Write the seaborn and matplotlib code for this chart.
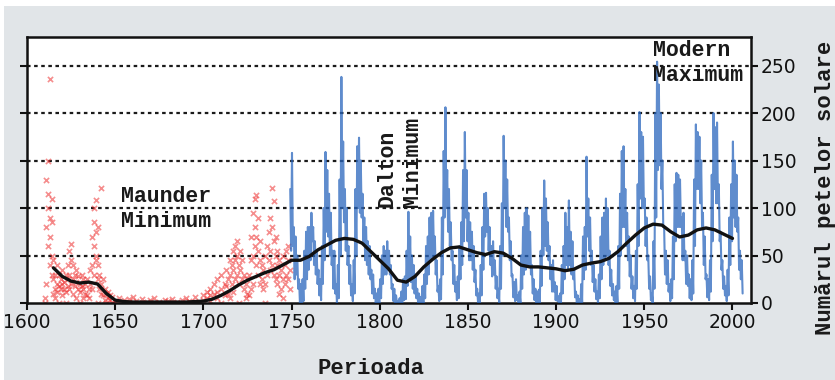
import numpy as np
import pandas as pd
import matplotlib
matplotlib.use("Agg")
import matplotlib.pyplot as plt
import seaborn as sns
from matplotlib.patches import Rectangle

# ---------------- data ----------------
# Telescopic monthly sunspot record 1749-2005, summarised per year as
# the highest and lowest monthly value seen in the chart
blue_years = list(range(1749, 2006))
blue_high = [
    120, 158, 80, 70, 50, 25, 20, 25, 55, 75, 80, 80, 95, 80, 65, 55, 35, 25, 60, 100,
    159, 140, 115, 95, 55, 55, 20, 40, 130, 238, 170, 120, 100, 60, 40, 20, 45, 120, 165, 174,
    150, 115, 90, 80, 65, 60, 35, 30, 15, 10, 15, 25, 50, 60, 55, 65, 55, 40, 20, 15,
    8, 2, 5, 12, 25, 28, 55, 96, 70, 50, 40, 30, 15, 10, 6, 18, 30, 60, 70, 90,
    95, 97, 70, 45, 18, 25, 90, 160, 206, 140, 120, 85, 55, 40, 22, 28, 60, 85, 140, 180,
    140, 95, 85, 75, 60, 35, 15, 10, 40, 80, 115, 116, 100, 80, 60, 65, 45, 28, 15, 60,
    105, 176, 150, 130, 90, 65, 30, 22, 25, 8, 12, 50, 80, 95, 100, 92, 75, 40, 25, 15,
    12, 14, 55, 100, 129, 110, 85, 60, 40, 45, 22, 18, 7, 10, 40, 60, 95, 80, 108, 75,
    65, 35, 12, 8, 4, 20, 70, 80, 154, 110, 90, 55, 40, 25, 12, 30, 70, 90, 95, 110,
    100, 55, 35, 20, 12, 18, 60, 115, 160, 165, 120, 95, 70, 50, 28, 18, 55, 125, 201, 180,
    175, 110, 90, 50, 28, 10, 65, 200, 254, 230, 200, 150, 80, 55, 45, 20, 25, 70, 125, 137,
    135, 130, 90, 95, 55, 50, 30, 25, 45, 130, 188, 180, 175, 150, 95, 70, 30, 25, 45, 135,
    200, 185, 190, 125, 75, 45, 28, 18, 35, 90, 125, 170, 150, 135, 90, 55, 45,
]
blue_low = [
    55, 60, 25, 30, 15, 0, 0, 2, 15, 25, 35, 45, 65, 40, 30, 20, 8, 3, 20, 45,
    75, 70, 50, 40, 15, 10, 0, 5, 50, 100, 85, 55, 40, 20, 8, 2, 10, 50, 100, 95,
    90, 65, 45, 40, 30, 25, 10, 5, 0, 0, 0, 5, 20, 30, 30, 35, 30, 15, 2, 0,
    0, 0, 0, 0, 3, 4, 18, 25, 22, 15, 10, 5, 0, 0, 0, 0, 5, 20, 30, 45,
    45, 50, 30, 12, 2, 4, 30, 90, 100, 75, 60, 45, 20, 12, 3, 5, 25, 40, 65, 90,
    65, 45, 45, 35, 22, 8, 0, 0, 8, 35, 70, 75, 55, 40, 28, 30, 15, 5, 0, 15,
    50, 100, 80, 75, 45, 28, 6, 2, 3, 0, 0, 15, 30, 35, 40, 40, 30, 10, 3, 0,
    0, 0, 18, 50, 60, 55, 45, 25, 12, 12, 3, 2, 0, 0, 10, 25, 40, 35, 40, 30,
    25, 6, 0, 0, 0, 1, 25, 35, 70, 55, 40, 22, 12, 4, 0, 5, 25, 40, 45, 50,
    40, 18, 8, 3, 0, 1, 15, 50, 80, 80, 60, 45, 28, 15, 5, 2, 15, 60, 110, 100,
    100, 60, 45, 15, 3, 0, 15, 90, 140, 145, 120, 80, 30, 20, 12, 2, 5, 25, 65, 80,
    80, 80, 45, 45, 20, 18, 5, 3, 10, 60, 120, 120, 105, 80, 40, 25, 6, 3, 12, 65,
    120, 105, 105, 65, 35, 15, 8, 2, 8, 40, 65, 90, 80, 75, 35, 25, 10,
]

# Early (pre-1750) observations, red crosses
red_years = [
    1610, 1610, 1611, 1611, 1611, 1612, 1612, 1612, 1612, 1613, 1613, 1613, 1613,
    1614, 1614, 1614, 1614, 1615, 1615, 1615, 1616, 1616, 1616, 1617, 1617, 1617,
    1618, 1618, 1618, 1619, 1619, 1620, 1620, 1620, 1621, 1621, 1622, 1622, 1622,
    1623, 1623, 1623, 1624, 1624, 1624, 1625, 1625, 1625, 1626, 1626, 1626, 1627,
    1627, 1628, 1628, 1628, 1629, 1629, 1630, 1630, 1630, 1631, 1631, 1632, 1632,
    1632, 1633, 1633, 1634, 1634, 1635, 1635, 1636, 1636, 1637, 1637, 1637, 1638,
    1638, 1638, 1638, 1639, 1639, 1639, 1639, 1640, 1640, 1640, 1640, 1641, 1641,
    1642, 1642, 1642, 1643, 1643, 1644, 1644, 1645, 1645, 1646, 1646, 1647, 1647,
    1648, 1648, 1650, 1650, 1652, 1652, 1655, 1655, 1658, 1658, 1660, 1660, 1662,
    1665, 1665, 1668, 1670, 1670, 1672, 1675, 1675, 1678, 1680, 1680, 1682, 1685,
    1685, 1688, 1690, 1690, 1692, 1695, 1695, 1697, 1700, 1700, 1702, 1702, 1704,
    1704, 1704, 1706, 1706, 1708, 1708, 1708, 1710, 1710, 1710, 1712, 1712, 1713,
    1713, 1714, 1714, 1715, 1715, 1715, 1716, 1716, 1717, 1717, 1717, 1718, 1718,
    1718, 1719, 1719, 1719, 1720, 1720, 1720, 1721, 1721, 1722, 1722, 1723, 1723,
    1724, 1724, 1725, 1725, 1726, 1726, 1727, 1727, 1727, 1728, 1728, 1728, 1729,
    1729, 1729, 1730, 1730, 1730, 1731, 1731, 1731, 1732, 1732, 1732, 1733, 1733,
    1734, 1734, 1735, 1735, 1735, 1736, 1736, 1737, 1737, 1738, 1738, 1738, 1739,
    1739, 1739, 1740, 1740, 1740, 1741, 1741, 1741, 1742, 1742, 1742, 1743, 1743,
    1743, 1744, 1744, 1745, 1745, 1745, 1746, 1746, 1747, 1747, 1748, 1748, 1748,
    1749, 1749,
]
red_values = [
    0, 5, 20, 80, 130, 60, 100, 115, 150, 236, 40, 70, 90,
    50, 30, 110, 85, 25, 45, 10, 15, 30, 5, 20, 40, 12,
    18, 0, 30, 15, 25, 20, 35, 8, 15, 22, 12, 30, 0,
    25, 40, 18, 55, 30, 15, 62, 45, 20, 40, 25, 10, 30,
    18, 22, 35, 5, 15, 28, 20, 12, 0, 30, 18, 15, 25,
    5, 10, 20, 25, 8, 15, 5, 20, 35, 40, 70, 15, 100,
    60, 85, 30, 108, 75, 50, 45, 80, 40, 25, 0, 30, 15,
    121, 20, 10, 25, 8, 15, 3, 10, 0, 5, 12, 3, 8,
    0, 6, 2, 0, 5, 1, 3, 0, 1, 4, 0, 6, 2,
    0, 4, 1, 0, 3, 5, 1, 0, 3, 0, 2, 4, 1,
    0, 3, 0, 5, 2, 1, 6, 0, 3, 8, 5, 12, 2,
    15, 8, 10, 20, 5, 25, 12, 15, 30, 0, 8, 20, 18,
    35, 25, 10, 30, 45, 5, 20, 40, 55, 35, 12, 45, 25,
    60, 65, 30, 50, 40, 20, 0, 35, 55, 25, 45, 15, 30,
    20, 5, 10, 25, 30, 8, 15, 45, 70, 50, 95, 20, 80,
    60, 110, 114, 40, 70, 55, 30, 90, 45, 20, 65, 25, 40,
    35, 15, 20, 50, 0, 30, 60, 45, 75, 55, 90, 35, 121,
    80, 40, 107, 65, 30, 50, 25, 70, 40, 20, 55, 30, 45,
    10, 15, 35, 25, 50, 5, 40, 20, 30, 55, 45, 25, 60,
    35, 15,
]

# Smoothed long-term average (black curve)
smooth_years = [
    1615, 1620, 1625, 1630, 1635, 1640, 1645, 1650, 1655, 1660, 1665, 1670, 1675,
    1680, 1685, 1690, 1695, 1700, 1705, 1710, 1715, 1720, 1725, 1730, 1735, 1740,
    1745, 1750, 1755, 1760, 1765, 1770, 1775, 1780, 1785, 1790, 1795, 1800, 1805,
    1810, 1815, 1820, 1825, 1830, 1835, 1840, 1845, 1850, 1855, 1860, 1865, 1870,
    1875, 1880, 1885, 1890, 1895, 1900, 1905, 1910, 1915, 1920, 1925, 1930, 1935,
    1940, 1945, 1950, 1955, 1960, 1965, 1970, 1975, 1980, 1985, 1990, 1995, 2000,
]
smooth_values = [
    37, 28, 23, 21, 22, 20, 10, 3, 1.5, 1, 1, 1, 1,
    1, 1, 1, 1.5, 2, 4, 8, 13, 19, 24, 28, 32, 35,
    40, 45, 45, 49, 56, 61, 66, 68, 67, 63, 54, 45, 36,
    24, 22, 28, 38, 46, 53, 58, 59, 56, 53, 51, 54, 52.5,
    47, 40, 38, 38, 37, 36, 34, 35.5, 40, 42, 43.5, 47, 54,
    63, 71.5, 79, 83, 82, 75, 69.5, 71.5, 77, 79, 77, 72.5, 68,
]

x_ticks = [1600, 1650, 1700, 1750, 1800, 1850, 1900, 1950, 2000]
y_ticks = [0, 50, 100, 150, 200, 250]

# ---------------- frames ----------------
blue_df = pd.DataFrame({
    "t": [y + 0.25 for y in blue_years] + [y + 0.75 for y in blue_years],
    "v": blue_high + blue_low,
}).sort_values("t")
red_df = pd.DataFrame({"t": red_years, "v": red_values})
smooth_df = pd.DataFrame({"t": smooth_years, "v": smooth_values})

# ---------------- figure ----------------
sns.set_theme(style="white")
plt.rcParams["font.family"] = ["DejaVu Sans"]

fig = plt.figure(figsize=(8.35, 3.8), dpi=100, facecolor="white")
fig.patches.append(Rectangle((0.005, 0), 0.995, 0.984, transform=fig.transFigure,
                             facecolor="#e1e5e8", edgecolor="none", zorder=-10))
ax = fig.add_axes([27 / 835, 1 - 303 / 380, (751 - 27) / 835, (303 - 37) / 380])
ax.set_facecolor("white")

for yv in y_ticks[1:]:
    ax.axhline(yv, color="#1a1a1a", lw=1.6, ls=(0, (1.6, 1.6)), zorder=1)

sns.scatterplot(data=red_df, x="t", y="v", ax=ax, marker="x", s=14, color="#ee3030",
                alpha=0.55, linewidth=1.2, zorder=2, legend=False)
sns.lineplot(data=blue_df, x="t", y="v", ax=ax, color="#2a66bd", lw=1.5, alpha=0.75,
             estimator=None, sort=False, zorder=3)
sns.lineplot(data=smooth_df, x="t", y="v", ax=ax, color="#111111", lw=2.4,
             estimator=None, zorder=4)

ax.set_xlim(1600, 2010.5)
ax.set_ylim(0, 280)
ax.set_xticks(x_ticks)
ax.set_xticklabels([str(v) for v in x_ticks])
ax.set_yticks(y_ticks)
ax.set_yticklabels([str(v) for v in y_ticks])
ax.set_xlabel("")
ax.set_ylabel("")
ax.tick_params(axis="x", direction="out", length=5, width=1.5, colors="#111111",
               labelsize=13.5, pad=2, bottom=True, top=False)
ax.tick_params(axis="y", direction="out", length=5, width=1.5, colors="#111111",
               labelsize=13.5, pad=2, left=True, right=True, labelleft=False, labelright=True)
for sp in ax.spines.values():
    sp.set_visible(True)
    sp.set_color("#111111")
    sp.set_linewidth(1.8)

mono = dict(family=["Liberation Mono", "DejaVu Sans Mono"], fontweight="bold",
            color="#1a1a1a")
ax.text(1653.5, 112, "Maunder", ha="left", va="center", fontsize=15.5, zorder=5, **mono)
ax.text(1653.5, 86, "Minimum", ha="left", va="center", fontsize=15.5, zorder=5, **mono)
ax.text(1804, 101, "Dalton", ha="center", va="bottom", rotation=90, fontsize=15.5,
        zorder=5, **mono)
ax.text(1818.5, 101, "Minimum", ha="center", va="bottom", rotation=90, fontsize=15.5,
        zorder=5, **mono)
ax.text(1955, 265.5, "Modern", ha="left", va="center", fontsize=15.5, zorder=5, **mono)
ax.text(1955, 240, "Maximum", ha="left", va="center", fontsize=15.5, zorder=5, **mono)

fig.text(371 / 835, 1 - 368 / 380, "Perioada", ha="center", va="center",
         fontsize=16, **mono)
fig.text(826 / 835, 1 - 188 / 380, "Numărul petelor solare", ha="center", va="center",
         rotation=90, fontsize=16, **mono)

fig.savefig("out.png", dpi=100, facecolor=fig.get_facecolor())
